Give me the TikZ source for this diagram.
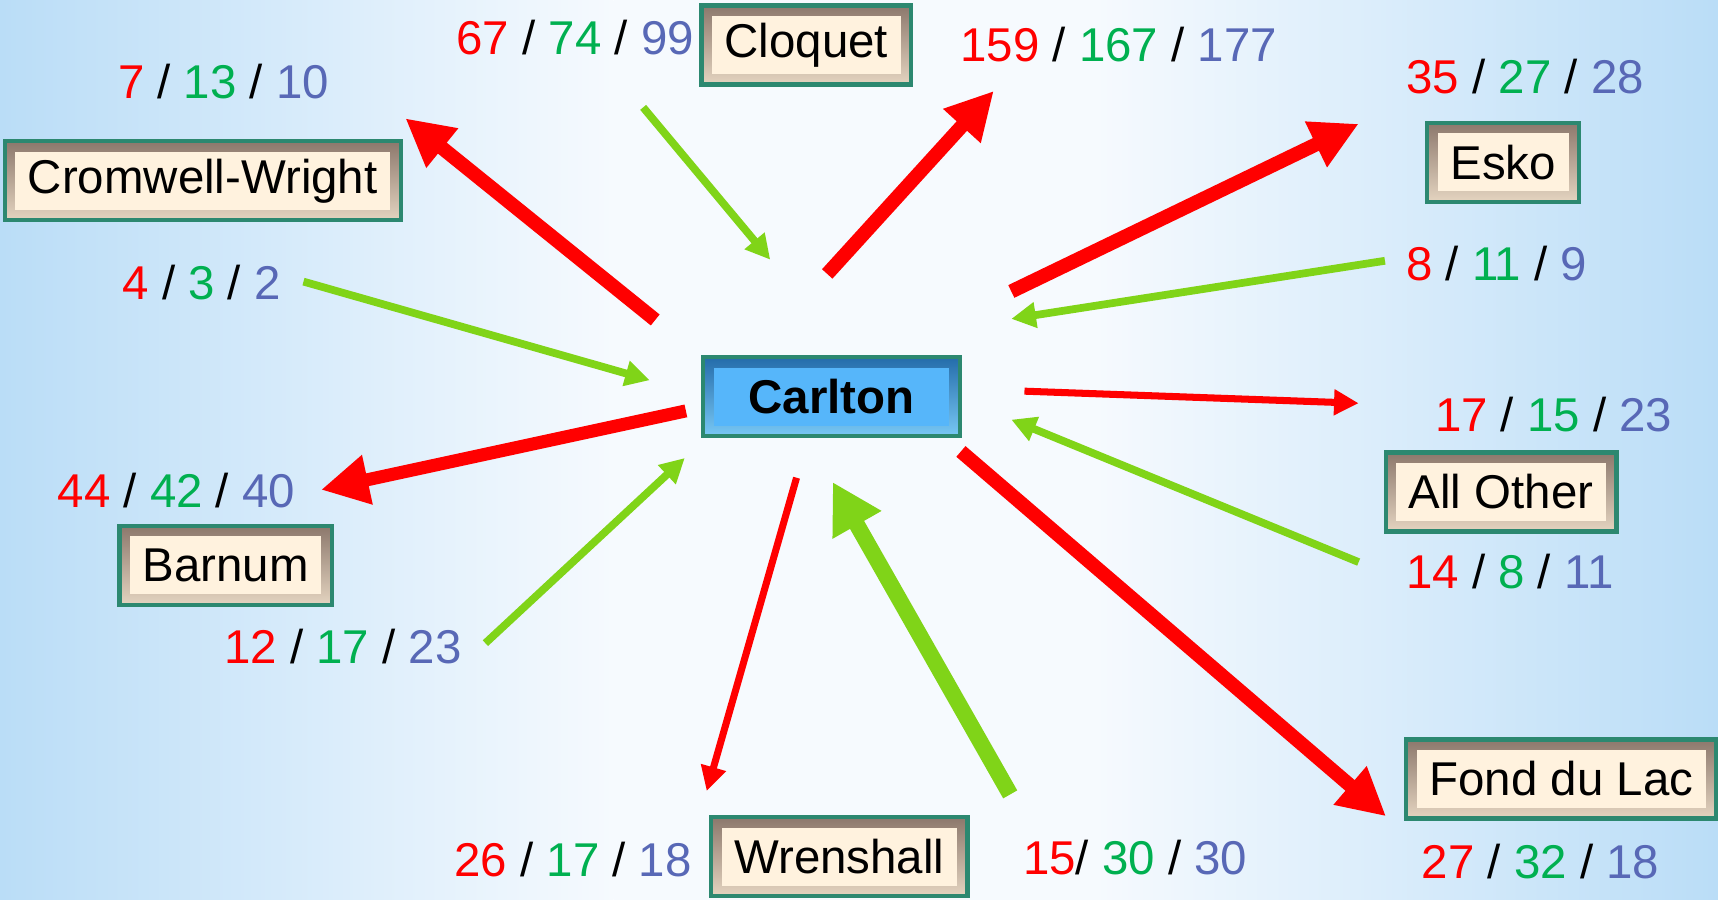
\documentclass[tikz,border=0pt]{standalone}
\usepackage{fontspec}
\setmainfont{Liberation Sans}
\usetikzlibrary{arrows.meta,positioning}
\definecolor{numred}{RGB}{255,0,0}
\definecolor{numgreen}{RGB}{0,176,80}
\definecolor{numblue}{RGB}{88,104,182}
\definecolor{flowgreen}{RGB}{128,212,24}
\definecolor{cream}{RGB}{255,242,222}
\definecolor{beveldark}{RGB}{140,120,108}
\definecolor{bevellight}{RGB}{228,212,192}
\definecolor{boxedge}{RGB}{44,136,112}
\definecolor{hubblue}{RGB}{86,182,250}
\definecolor{hubdark}{RGB}{36,108,170}
\definecolor{hublight}{RGB}{120,200,245}
\definecolor{bgblue}{RGB}{186,221,247}
\definecolor{bgpale}{RGB}{246,250,254}
\tikzset{
	town/.style={draw=boxedge, line width=1.2pt, minimum height=22.5pt, inner xsep=6.6pt,
		font=\fontsize{13.5}{16}\selectfont,
		path picture={
			\shade[top color=beveldark, bottom color=bevellight] (path picture bounding box.south west) rectangle (path picture bounding box.north east);
			\fill[cream] ([shift={(3pt,3pt)}]path picture bounding box.south west) rectangle ([shift={(-3pt,-3pt)}]path picture bounding box.north east);
		}},
	hub/.style={draw=boxedge, line width=1.2pt, minimum height=22.5pt, minimum width=73pt,
		font=\fontsize{13.5}{16}\selectfont\bfseries,
		path picture={
			\shade[top color=hubdark, bottom color=hublight] (path picture bounding box.south west) rectangle (path picture bounding box.north east);
			\fill[hubblue] ([shift={(3pt,3pt)}]path picture bounding box.south west) rectangle ([shift={(-3pt,-3pt)}]path picture bounding box.north east);
		}},
	tally/.style={font=\fontsize{13.5}{16}\selectfont, inner sep=0pt, anchor=base},
	redfat/.style={draw=numred, line width=4pt, -{Triangle[length=13.5pt,width=13.5pt]}},
	redthin/.style={draw=numred, line width=2pt, -{Triangle[length=7pt,width=7pt]}},
	greenthin/.style={draw=flowgreen, line width=2.2pt, -{Triangle[length=7pt,width=7pt]}},
	greenfat/.style={draw=flowgreen, line width=4.6pt, -{Triangle[length=14pt,width=15pt]}},
}
\newcommand{\tally}[3]{\textcolor{numred}{#1} / \textcolor{numgreen}{#2} / \textcolor{numblue}{#3}}

\begin{document}
\begin{tikzpicture}[x=0.1096mm, y=-0.1096mm]
	% backdrop
	\shade[left color=bgblue, right color=bgpale] (0,0) rectangle (560,821);
	\fill[bgpale] (560,0) rectangle (1000,821);
	\shade[left color=bgpale, right color=bgblue] (1000,0) rectangle (1568,821);
	\useasboundingbox (0,0) rectangle (1568,821);

	% towns
	\node[hub] (carlton) at (759,362) {Carlton};
	\node[town] (cloquet) at (736,41) {Cloquet};
	\node[town] (cromwell) at (185,165) {Cromwell-Wright};
	\node[town] (esko) at (1372,148) {Esko};
	\node[town] (allother) at (1370,449) {All Other};
	\node[town] (barnum) at (206,516) {Barnum};
	\node[town] (fondulac) at (1425,711) {Fond du Lac};
	\node[town] (wrenshall) at (766,782) {Wrenshall};

	% counts
	\node[tally] (n-cl-in) at (525,50) {\tally{67}{74}{99}};
	\node[tally] (n-cw-out) at (204,90) {\tally{7}{13}{10}};
	\node[tally] (n-cl-out) at (1021,56) {\tally{159}{167}{177}};
	\node[tally] (n-es-out) at (1392,85) {\tally{35}{27}{28}};
	\node[tally] (n-cw-in) at (184,273) {\tally{4}{3}{2}};
	\node[tally] (n-es-in) at (1366,256) {\tally{8}{11}{9}};
	\node[tally] (n-ao-out) at (1418,394) {\tally{17}{15}{23}};
	\node[tally] (n-ba-out) at (161,463) {\tally{44}{42}{40}};
	\node[tally] (n-ao-in) at (1378,537) {\tally{14}{8}{11}};
	\node[tally] (n-ba-in) at (313,606) {\tally{12}{17}{23}};
	\node[tally] (n-wr-out) at (523,800) {\tally{26}{17}{18}};
	\node[tally] (n-wr-in) at (1036,798) {\textcolor{numred}{15}/ \textcolor{numgreen}{30} / \textcolor{numblue}{30}};
	\node[tally] (n-fd-out) at (1406,802) {\tally{27}{32}{18}};

	% arrow ends
	\coordinate (o-cw) at (598,292); \coordinate (i-cw) at (370,108);
	\coordinate (o-cl) at (755,250); \coordinate (i-cl) at (907,83);
	\coordinate (o-es) at (923,266); \coordinate (i-es) at (1240,113);
	\coordinate (o-fd) at (877,412); \coordinate (i-fd) at (1265,745);
	\coordinate (o-ba) at (626,375); \coordinate (i-ba) at (293,447);
	\coordinate (o-ao) at (935,357); \coordinate (i-ao) at (1240,368);
	\coordinate (o-wr) at (727,436); \coordinate (i-wr) at (645,722);
	\coordinate (g-cl) at (587,98);  \coordinate (h-cl) at (703,237);
	\coordinate (g-cw) at (277,257); \coordinate (h-cw) at (593,347);
	\coordinate (g-es) at (1264,238); \coordinate (h-es) at (923,291);
	\coordinate (g-ao) at (1240,513); \coordinate (h-ao) at (923,383);
	\coordinate (g-ba) at (443,587); \coordinate (h-ba) at (625,418);
	\coordinate (g-wr) at (922,725); \coordinate (h-wr) at (760,440);

	\draw (o-cw) edge[redfat] (i-cw)
	(o-cl) edge[redfat] (i-cl)
	(o-es) edge[redfat] (i-es)
	(o-fd) edge[redfat] (i-fd)
	(o-ba) edge[redfat, line width=3.7pt] (i-ba)
	(o-ao) edge[redthin] (i-ao)
	(o-wr) edge[redthin] (i-wr)
	(g-cl) edge[greenthin] (h-cl)
	(g-cw) edge[greenthin] (h-cw)
	(g-es) edge[greenthin] (h-es)
	(g-ao) edge[greenthin] (h-ao)
	(g-ba) edge[greenthin] (h-ba)
	(g-wr) edge[greenfat] (h-wr);
\end{tikzpicture}
\end{document}
